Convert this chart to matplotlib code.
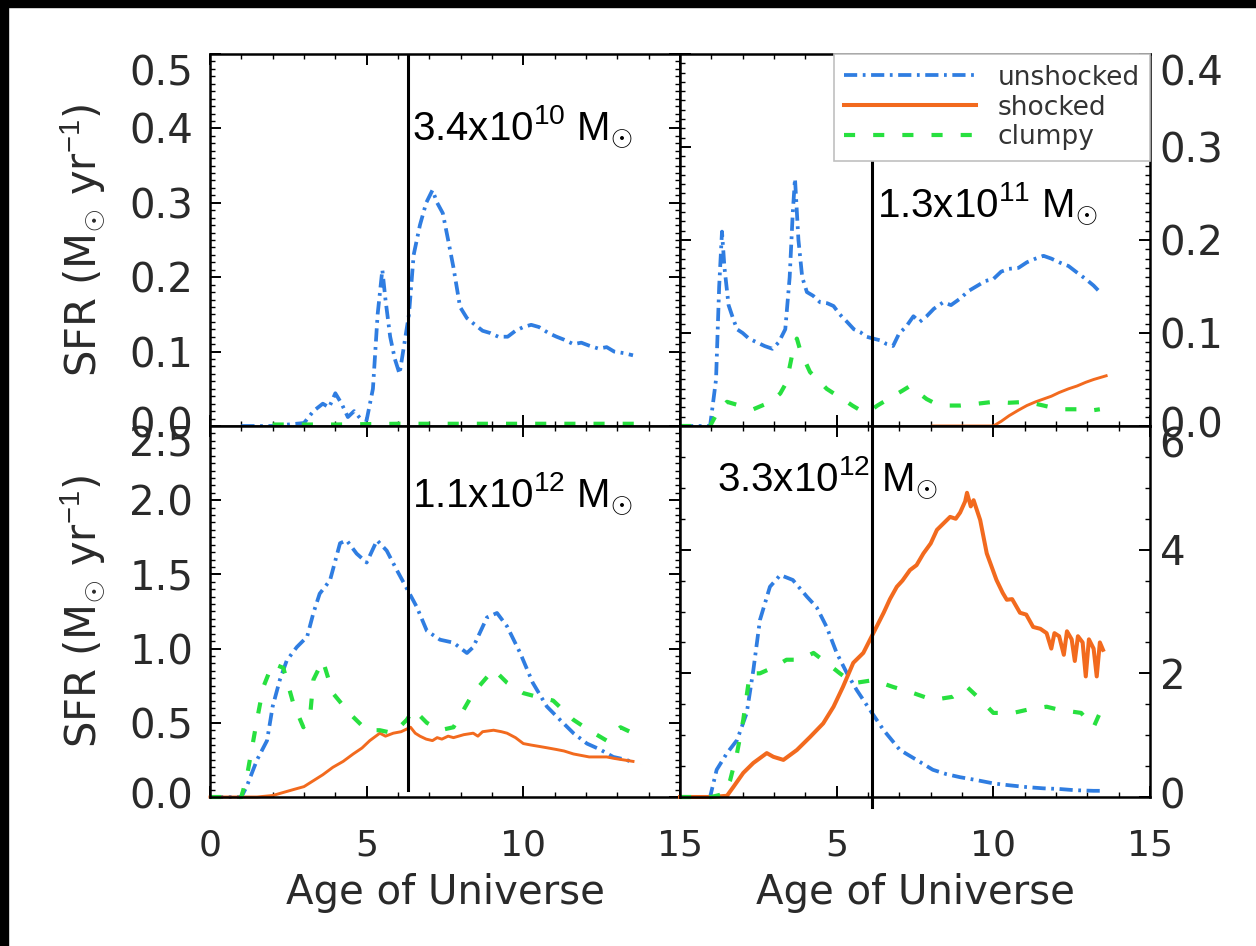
import numpy as np
import matplotlib.pyplot as plt
from matplotlib.ticker import MultipleLocator
from matplotlib.patches import Rectangle

plt.rcParams['font.family'] = ['DejaVu Sans']
plt.rcParams['mathtext.fontset'] = 'custom'
plt.rcParams['mathtext.rm'] = 'Liberation Sans'
plt.rcParams['mathtext.it'] = 'Liberation Sans:italic'
plt.rcParams['lines.scale_dashes'] = False

# star formation histories, (age in Gyr, SFR in Msun/yr)
ul_unshocked = [(1.0, 0.0), (2.0, 0.0), (2.5, 0.002), (3.0, 0.004), (3.3, 0.02), (3.6, 0.03),
                (3.8, 0.025), (4.0, 0.044), (4.2, 0.03), (4.4, 0.012), (4.6, 0.02), (4.8, 0.01),
                (5.0, 0.008), (5.2, 0.05), (5.35, 0.15), (5.5, 0.21), (5.6, 0.17), (5.75, 0.12),
                (5.9, 0.09), (6.05, 0.07), (6.2, 0.11), (6.35, 0.15), (6.5, 0.23), (6.7, 0.27),
                (6.9, 0.30), (7.1, 0.317), (7.25, 0.30), (7.43, 0.286), (7.6, 0.25), (7.77, 0.213),
                (7.98, 0.16), (8.2, 0.145), (8.4, 0.138), (8.7, 0.128), (8.94, 0.125), (9.2, 0.12),
                (9.5, 0.12), (9.75, 0.128), (10.0, 0.133), (10.25, 0.136), (10.5, 0.133),
                (10.8, 0.125), (11.06, 0.12), (11.3, 0.116), (11.6, 0.11), (11.85, 0.112),
                (12.1, 0.108), (12.4, 0.104), (12.66, 0.106), (12.9, 0.10), (13.2, 0.098), (13.5, 0.095)]
ul_clumpy = [(2.0, 0.002), (4.0, 0.002), (6.0, 0.003), (8.0, 0.003), (10.0, 0.003),
             (12.0, 0.003), (13.6, 0.003)]

ur_unshocked = [(0.0, 0.0), (0.5, 0.0), (0.96, 0.0), (1.15, 0.05), (1.25, 0.15), (1.34, 0.209),
                (1.42, 0.17), (1.55, 0.13), (1.7, 0.115), (1.82, 0.104), (2.0, 0.1), (2.2, 0.094),
                (2.45, 0.09), (2.7, 0.086), (2.95, 0.083), (3.15, 0.09), (3.36, 0.104), (3.5, 0.16),
                (3.6, 0.23), (3.67, 0.266), (3.78, 0.2), (3.9, 0.16), (4.05, 0.144), (4.25, 0.14),
                (4.47, 0.133), (4.7, 0.132), (4.9, 0.129), (5.1, 0.12), (5.33, 0.112), (5.55, 0.104),
                (5.75, 0.101), (5.95, 0.096), (6.17, 0.094), (6.4, 0.092), (6.6, 0.088), (6.8, 0.086),
                (7.0, 0.1), (7.2, 0.106), (7.45, 0.118), (7.65, 0.112), (7.87, 0.118), (8.1, 0.126),
                (8.4, 0.133), (8.65, 0.13), (8.94, 0.137), (9.2, 0.145), (9.5, 0.151), (9.75, 0.156),
                (10.0, 0.158), (10.25, 0.166), (10.5, 0.169), (10.8, 0.17), (11.07, 0.176),
                (11.35, 0.18), (11.6, 0.183), (11.85, 0.18), (12.1, 0.176), (12.4, 0.172),
                (12.67, 0.165), (12.95, 0.158), (13.2, 0.151), (13.4, 0.144)]
ur_shocked = [(8.07, 0.0), (9.0, 0.0), (10.0, 0.0), (10.25, 0.005), (10.5, 0.011), (10.8, 0.017),
              (11.07, 0.022), (11.35, 0.026), (11.6, 0.029), (11.85, 0.032), (12.1, 0.036),
              (12.4, 0.04), (12.67, 0.043), (12.95, 0.047), (13.2, 0.05), (13.4, 0.052), (13.6, 0.054)]
ur_clumpy = [(0.0, 0.0), (0.96, 0.0), (1.2, 0.015), (1.5, 0.026), (1.9, 0.022), (2.34, 0.018),
             (2.9, 0.026), (3.2, 0.035), (3.4, 0.047), (3.6, 0.08), (3.73, 0.094), (3.85, 0.08),
             (4.15, 0.058), (4.4, 0.05), (4.68, 0.04), (5.0, 0.033), (5.2, 0.029), (5.5, 0.022),
             (5.85, 0.015), (6.05, 0.016), (6.3, 0.022), (6.55, 0.027), (6.8, 0.032), (7.1, 0.038),
             (7.34, 0.043), (7.6, 0.036), (7.87, 0.029), (8.1, 0.025), (8.4, 0.022), (8.94, 0.022),
             (9.5, 0.024), (10.0, 0.026), (10.5, 0.025), (11.07, 0.026), (11.6, 0.022),
             (12.1, 0.018), (12.67, 0.018), (13.0, 0.016), (13.4, 0.018)]

ll_unshocked = [(0.0, 0.0), (0.5, 0.0), (1.0, 0.0), (1.17, 0.07), (1.5, 0.25), (1.82, 0.38),
                (2.0, 0.61), (2.23, 0.79), (2.45, 0.92), (2.77, 1.01), (3.1, 1.08), (3.3, 1.24),
                (3.5, 1.37), (3.83, 1.46), (4.15, 1.71), (4.36, 1.73), (4.68, 1.64), (5.0, 1.58),
                (5.33, 1.73), (5.64, 1.66), (5.96, 1.53), (6.32, 1.39), (6.6, 1.28), (6.92, 1.12),
                (7.34, 1.06), (7.77, 1.04), (8.2, 0.97), (8.4, 1.01), (8.84, 1.21), (9.16, 1.24),
                (9.48, 1.15), (9.9, 0.97), (10.3, 0.77), (10.75, 0.61), (11.17, 0.52), (11.6, 0.43),
                (12.03, 0.36), (12.45, 0.32), (12.87, 0.27), (13.3, 0.25), (13.5, 0.23)]
ll_shocked = [(0.0, 0.0), (1.0, 0.0), (1.5, 0.0), (2.0, 0.01), (2.66, 0.05), (3.0, 0.07),
              (3.3, 0.11), (3.6, 0.15), (3.92, 0.2), (4.25, 0.24), (4.57, 0.29), (4.85, 0.33),
              (5.1, 0.38), (5.42, 0.43), (5.6, 0.41), (5.85, 0.43), (6.1, 0.44), (6.4, 0.47),
              (6.55, 0.43), (6.7, 0.41), (6.9, 0.39), (7.1, 0.38), (7.25, 0.40), (7.4, 0.39),
              (7.6, 0.41), (7.77, 0.40), (8.1, 0.42), (8.4, 0.43), (8.55, 0.41), (8.7, 0.44),
              (9.05, 0.45), (9.3, 0.44), (9.48, 0.43), (9.75, 0.40), (10.0, 0.36), (10.25, 0.35),
              (10.53, 0.34), (10.8, 0.33), (11.06, 0.32), (11.3, 0.31), (11.6, 0.29),
              (11.85, 0.28), (12.1, 0.27), (12.4, 0.27), (12.66, 0.27), (12.9, 0.26),
              (13.2, 0.25), (13.5, 0.24)]
ll_clumpy = [(0.0, 0.0), (0.5, 0.0), (1.0, 0.0), (1.17, 0.13), (1.5, 0.52), (1.7, 0.74),
             (2.0, 0.9), (2.34, 0.87), (2.66, 0.63), (2.98, 0.47), (3.2, 0.56), (3.3, 0.79),
             (3.6, 0.92), (3.92, 0.7), (4.47, 0.56), (5.0, 0.45), (5.42, 0.45), (5.85, 0.43),
             (6.28, 0.52), (6.5, 0.59), (6.92, 0.5), (7.34, 0.45), (7.77, 0.47), (8.1, 0.59),
             (8.4, 0.7), (9.05, 0.86), (9.48, 0.77), (10.0, 0.7), (10.53, 0.67), (10.95, 0.65),
             (11.6, 0.52), (12.1, 0.45), (12.66, 0.38), (13.1, 0.47), (13.5, 0.43)]

lr_unshocked = [(0.0, 0.0), (0.5, 0.0), (0.96, 0.0), (1.17, 0.44), (1.5, 0.71), (1.82, 0.92),
                (2.13, 1.36), (2.34, 2.05), (2.55, 2.86), (2.87, 3.4), (3.2, 3.59), (3.6, 3.51),
                (4.05, 3.24), (4.36, 3.07), (4.68, 2.75), (5.0, 2.33), (5.33, 2.0), (5.64, 1.73),
                (6.06, 1.41), (6.5, 1.08), (7.02, 0.76), (7.55, 0.6), (8.07, 0.44), (8.5, 0.37),
                (8.94, 0.32), (9.5, 0.27), (10.0, 0.22), (10.5, 0.19), (11.07, 0.16), (11.6, 0.14),
                (12.1, 0.13), (12.6, 0.11), (13.2, 0.1), (13.5, 0.1)]
lr_shocked = [(0.0, 0.0), (1.0, 0.0), (1.5, 0.02), (1.7, 0.16), (2.02, 0.39), (2.34, 0.55),
              (2.77, 0.71), (2.98, 0.65), (3.3, 0.6), (3.73, 0.76), (4.15, 0.97), (4.57, 1.19),
              (4.9, 1.46), (5.2, 1.78), (5.53, 2.17), (5.85, 2.33), (6.17, 2.65), (6.5, 2.98),
              (6.7, 3.2), (6.92, 3.4), (7.1, 3.5), (7.34, 3.67), (7.55, 3.75), (7.77, 3.94),
              (8.0, 4.1), (8.2, 4.32), (8.4, 4.42), (8.62, 4.53), (8.8, 4.5), (8.94, 4.6),
              (9.1, 4.78), (9.16, 4.92), (9.28, 4.7), (9.37, 4.8), (9.58, 4.48), (9.79, 3.94),
              (10.1, 3.51), (10.3, 3.3), (10.43, 3.19), (10.6, 3.2), (10.85, 2.98), (11.05, 2.95),
              (11.27, 2.75), (11.5, 2.72), (11.7, 2.65), (11.85, 2.4), (11.95, 2.65), (12.1, 2.6),
              (12.25, 2.3), (12.35, 2.68), (12.5, 2.55), (12.6, 2.2), (12.7, 2.6), (12.85, 2.5),
              (12.95, 1.95), (13.05, 2.55), (13.2, 2.4), (13.3, 1.95), (13.4, 2.5), (13.5, 2.38)]
lr_clumpy = [(0.0, 0.0), (1.0, 0.0), (1.4, 0.05), (1.6, 0.27), (1.82, 0.71), (2.02, 1.25),
             (2.23, 2.0), (2.55, 2.0), (3.0, 2.1), (3.4, 2.22), (3.83, 2.22), (4.26, 2.33),
             (4.68, 2.17), (5.1, 2.0), (5.53, 1.84), (6.17, 1.89), (6.8, 1.78), (7.45, 1.68),
             (8.07, 1.57), (8.7, 1.62), (9.16, 1.78), (9.6, 1.57), (10.0, 1.36), (10.64, 1.36),
             (11.07, 1.41), (11.7, 1.46), (12.1, 1.41), (12.8, 1.36), (13.2, 1.13), (13.4, 1.36)]

mass_labels = [r'3.4x10$^{10}$ M$_{\odot}$', r'1.3x10$^{11}$ M$_{\odot}$',
               r'1.1x10$^{12}$ M$_{\odot}$', r'3.3x10$^{12}$ M$_{\odot}$']
collapse_age = [6.32, 6.13, 6.32, 6.13]
ylims = [0.5, 0.4, 2.5, 6]
yticks = [[0.0, 0.1, 0.2, 0.3, 0.4, 0.5], [0.0, 0.1, 0.2, 0.3, 0.4],
          [0.0, 0.5, 1.0, 1.5, 2.0, 2.5], [0, 2, 4, 6]]
ytick_labels = [['0.0', '0.1', '0.2', '0.3', '0.4', '0.5'], ['0.0', '0.1', '0.2', '0.3', '0.4'],
                ['0.0', '0.5', '1.0', '1.5', '2.0', '2.5'], ['0', '2', '4', '6']]
yminor = [0.01, 0.01, 0.05, 0.5]
xticks = [0, 5, 10, 15]
series_names = ['unshocked', 'shocked', 'clumpy']

panels = [(ul_unshocked, None, ul_clumpy), (ur_unshocked, ur_shocked, ur_clumpy),
          (ll_unshocked, ll_shocked, ll_clumpy), (lr_unshocked, lr_shocked, lr_clumpy)]

c_blue, c_orange, c_green = '#2f7de1', '#f26a1e', '#27e03f'

W, H = 1256, 946
fig = plt.figure(figsize=(W / 100, H / 100), dpi=100)

# panel boxes in pixels: left, top, right, bottom
boxes = [(210, 54, 680, 426), (680, 54, 1150, 426), (210, 426, 680, 797), (680, 426, 1150, 797)]
axes = [fig.add_axes([l / W, 1 - b / H, (r - l) / W, (b - t) / H]) for l, t, r, b in boxes]

# black strips along top and left edge
fig.patches.append(Rectangle((0, 1 - 7 / H), 1, 7 / H, transform=fig.transFigure,
                             color='black', zorder=10))
fig.patches.append(Rectangle((0, 0), 8 / W, 1, transform=fig.transFigure,
                             color='black', zorder=10))

handles = {}
for i, ax in enumerate(axes):
    uns, sho, clu = panels[i]
    lw_sh = 2.9 if i == 3 else 2.1
    t, v = np.array(uns).T
    h1, = ax.plot(t, v, color=c_blue, lw=2.7, dashes=(9.5, 4, 2, 4), clip_on=False)
    if sho is not None:
        t, v = np.array(sho).T
        h2, = ax.plot(t, v, color=c_orange, lw=lw_sh, clip_on=False)
        handles['shocked'] = h2
    t, v = np.array(clu).T
    h3, = ax.plot(t, v, color=c_green, lw=3.0, dashes=(8, 13), clip_on=False)
    handles['unshocked'] = h1
    handles['clumpy'] = h3

    ax.set_xlim(0, 15)
    ax.set_ylim(0, ylims[i])
    ax.set_xticks(xticks)
    ax.xaxis.set_minor_locator(MultipleLocator(1))
    ax.set_yticks(yticks[i])
    ax.yaxis.set_minor_locator(MultipleLocator(yminor[i]))
    for s in ax.spines.values():
        s.set_linewidth(1.8)

    left = i in (0, 2)
    bottom = i in (2, 3)
    ax.tick_params(which='both', direction='in', top=True, bottom=True, left=True, right=True,
                   labelleft=left, labelright=not left, labelbottom=bottom, color='black')
    ax.tick_params(which='major', length=8, width=1.4)
    ax.tick_params(which='minor', length=3.5, width=1.0)
    ax.tick_params(axis='y', labelsize=29, labelcolor='#2a2a2a', pad=12 if left else 7)
    ax.tick_params(axis='x', labelsize=26, labelcolor='#2a2a2a', pad=23)
    ax.set_yticklabels(ytick_labels[i])
    if bottom:
        ax.set_xticklabels(['0', '5', '10', '15'] if left else ['', '5', '10', '15'])
        ax.set_xlabel('Age of Universe', fontsize=29, color='#2a2a2a')
        ax.xaxis.set_label_coords(0.5, -0.205)
    if left:
        ax.set_ylabel(r'SFR (M$_{\odot}$ yr$^{-1}$)', fontsize=30, color='#2a2a2a')
        ax.yaxis.set_label_coords(-0.219, 0.5)

    # extreme tick labels sit inside the panel height
    ticks = ax.yaxis.get_major_ticks()
    lab = 'label1' if left else 'label2'
    getattr(ticks[0], lab).set_verticalalignment('center')
    getattr(ticks[-1], lab).set_verticalalignment('top')

# vertical markers at the collapse age
axes[0].axvline(collapse_age[0], 0, 1, color='black', lw=2.2, zorder=4)
axes[2].axvline(collapse_age[2], 0.019, 1, color='black', lw=2.2, zorder=4)
axes[1].axvline(collapse_age[1], 0, 0.728, color='black', lw=2.2, zorder=4)
axes[3].axvline(collapse_age[3], -0.027, 1, color='black', lw=2.2, zorder=4, clip_on=False)

# halo mass labels
text_pos = [(0.43, 0.769), (0.419, 0.562), (0.43, 0.782), (0.079, 0.827)]
for ax, s, (x, y) in zip(axes, mass_labels, text_pos):
    ax.text(x, y, s, transform=ax.transAxes, fontsize=29, family='Liberation Sans',
            color='black', va='baseline', ha='left', zorder=6)

leg = axes[1].legend([handles[n] for n in series_names], series_names, loc='upper right',
                     bbox_to_anchor=(1.0, 1.0), borderaxespad=0, fancybox=False,
                     edgecolor='#c0c0c0', framealpha=1, fontsize=19, handlelength=5.0,
                     handletextpad=0.8, labelspacing=0.15, borderpad=0.4)
leg.get_frame().set_linewidth(1.2)
for txt in leg.get_texts():
    txt.set_color('#333333')

fig.savefig('out.png', dpi=100, facecolor='white')
